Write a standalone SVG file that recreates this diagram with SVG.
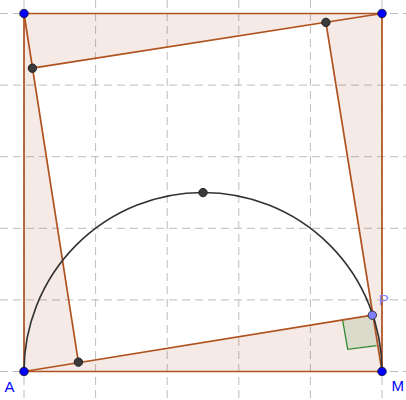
<svg xmlns="http://www.w3.org/2000/svg" width="406" height="400" viewBox="0 0 406 400">
<style>
.grid line{stroke:#bdbdbd;stroke-width:1;stroke-dasharray:8 5}
.tri{fill:#993300;fill-opacity:0.1;stroke:none}
.seg{stroke:#b0521f;stroke-width:1.7;fill:none;stroke-linecap:round}
.arc{stroke:#333;stroke-width:1.6;fill:none}
.pt{fill:#3a3a3a;stroke:#222;stroke-width:1}
.bpt{fill:#0000ff;stroke:#111;stroke-width:0.8}
.lbl{font-family:"Liberation Sans",Arial,sans-serif;font-size:15px}
</style>
<rect width="406" height="400" fill="#fff"/>
<g class="grid">
<line x1="24" y1="0" x2="24" y2="400"/>
<line x1="95.6" y1="0" x2="95.6" y2="400"/>
<line x1="167.2" y1="0" x2="167.2" y2="400"/>
<line x1="238.8" y1="0" x2="238.8" y2="400"/>
<line x1="310.4" y1="0" x2="310.4" y2="400"/>
<line x1="382" y1="0" x2="382" y2="400"/>
<line x1="0" y1="13.5" x2="406" y2="13.5"/>
<line x1="0" y1="85.1" x2="406" y2="85.1"/>
<line x1="0" y1="156.7" x2="406" y2="156.7"/>
<line x1="0" y1="228.3" x2="406" y2="228.3"/>
<line x1="0" y1="299.9" x2="406" y2="299.9"/>
<line x1="0" y1="371.5" x2="406" y2="371.5"/>
</g>
<g id="triangles">
<polygon class="tri" points="24,371.5 382,371.5 372.3,315.2"/>
<polygon class="tri" points="382,371.5 382,13.5 325.9,22.4"/>
<polygon class="tri" points="382,13.5 24,13.5 32.4,68.2"/>
<polygon class="tri" points="24,13.5 24,371.5 78.4,362.1"/>
</g>
<g id="rightangle">
<polygon points="372.3,315.2 342.6,320 347.7,349.3 376.6,345.6" fill="#006400" fill-opacity="0.11" stroke="none"/>
<polyline points="342.6,320 347.7,349.3 376.6,345.6" fill="none" stroke="#2f8a2f" stroke-width="1.3"/>
</g>
<g id="connectors">
<polygon class="seg" points="24,13.5 382,13.5 382,371.5 24,371.5"/>
<line class="seg" x1="24" y1="371.5" x2="372.3" y2="315.2"/>
<line class="seg" x1="382" y1="371.5" x2="325.9" y2="22.4"/>
<line class="seg" x1="382" y1="13.5" x2="32.4" y2="68.2"/>
<line class="seg" x1="24" y1="13.5" x2="78.4" y2="362.1"/>
<path class="arc" d="M24,371.5 A179,179 0 0 1 382,371.5"/>
</g>
<g id="node-top"><circle class="pt" cx="203" cy="192.6" r="4.2"/></g>
<g id="node-R"><circle class="pt" cx="325.9" cy="22.4" r="4.2"/></g>
<g id="node-S"><circle class="pt" cx="32.4" cy="68.2" r="4.2"/></g>
<g id="node-Q"><circle class="pt" cx="78.4" cy="362.1" r="4.2"/></g>
<g id="node-TL"><circle class="bpt" cx="24" cy="13.5" r="4.3"/></g>
<g id="node-TR"><circle class="bpt" cx="382" cy="13.5" r="4.3"/></g>
<g id="node-A"><circle class="bpt" cx="24" cy="371.5" r="4.3"/><text class="lbl" x="4.5" y="391.5" fill="#0000ff">A</text></g>
<g id="node-M"><circle class="bpt" cx="382" cy="371.5" r="4.3"/><text class="lbl" x="391.5" y="391.2" fill="#0000ff">M</text></g>
<g id="node-P"><circle cx="372.3" cy="315.2" r="4.2" fill="#7f7fff" stroke="#333" stroke-width="1"/><text class="lbl" x="378.8" y="305.2" fill="#7f7fff">P</text></g>
</svg>
